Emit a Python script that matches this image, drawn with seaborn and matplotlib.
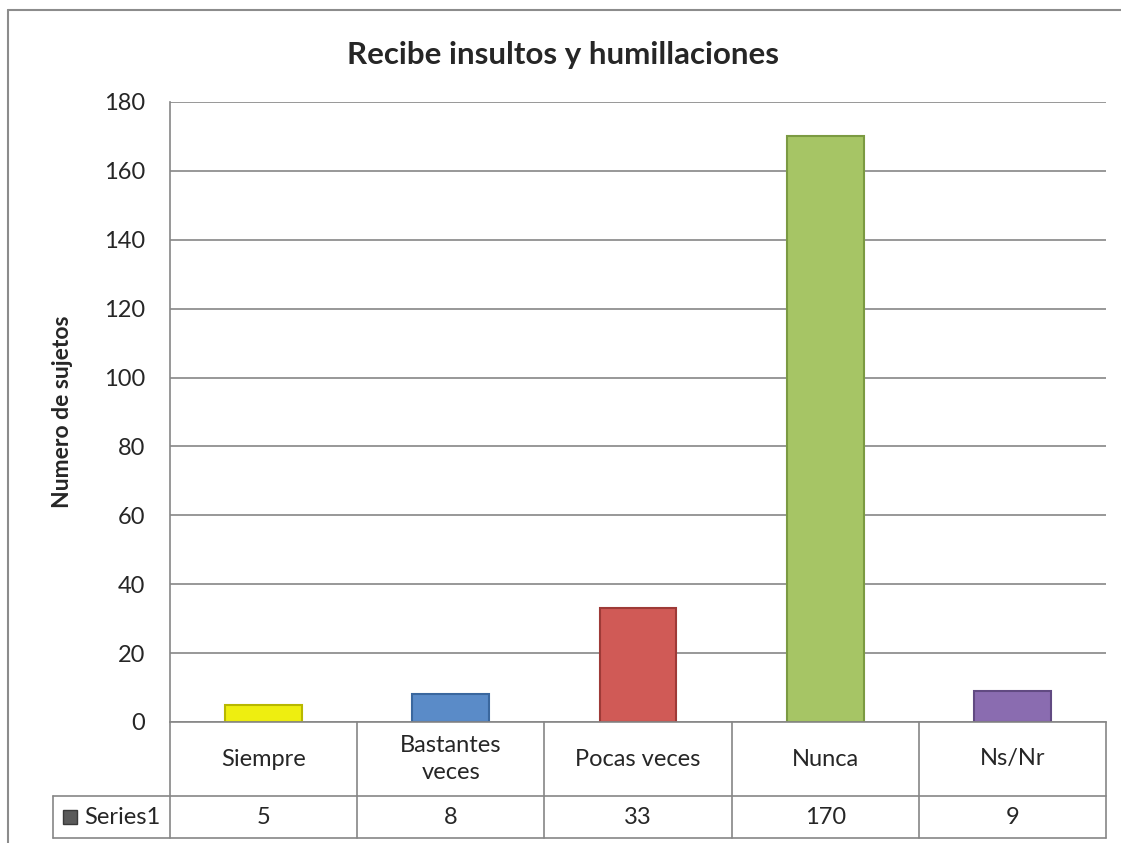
import matplotlib
matplotlib.use("Agg")
import matplotlib.pyplot as plt
import seaborn as sns
import pandas as pd
from matplotlib.lines import Line2D

# data
categorias = ["Siempre", "Bastantes\nveces", "Pocas veces", "Nunca", "Ns/Nr"]
sujetos = [5, 8, 33, 170, 9]
colores = ["#EEEE10", "#5A8BC8", "#D05A56", "#A6C565", "#8A6CB0"]
bordes = ["#B8B800", "#3A679E", "#9E3A37", "#7B9A42", "#614A82"]
serie = "Series1"
yticks = [0, 20, 40, 60, 80, 100, 120, 140, 160, 180]
titulo = "Recibe insultos y humillaciones"
ylabel = "Numero de sujetos"

sns.set_style("white")
plt.rcParams["font.family"] = ["Lato", "DejaVu Sans"]

df = pd.DataFrame({"cat": categorias, "n": sujetos})

W, H = 1121, 843
fig = plt.figure(figsize=(W / 100, H / 100), dpi=100)
ax = fig.add_axes([170 / W, (H - 722) / H, 936 / W, 620 / H])

sns.barplot(data=df, x="cat", y="n", hue="cat", palette=colores,
            legend=False, width=0.41, ax=ax, saturation=1)
for p, ec in zip(ax.patches, bordes):
    p.set_edgecolor(ec)
    p.set_linewidth(1.5)

grid = "#868686"
ax.set_ylim(0, 180)
ax.set_xlim(-0.5, len(categorias) - 0.5)
ax.set_yticks(yticks)
ax.yaxis.grid(True, color=grid, linewidth=1.2)
ax.set_axisbelow(True)
ax.tick_params(axis="y", labelsize=17, length=0, pad=18)
ax.set_xticks([])
ax.set_xlabel("")
ax.set_ylabel(ylabel, fontsize=16.5, fontweight="bold", labelpad=22)
for s in ["top", "right"]:
    ax.spines[s].set_visible(False)
for s in ["left", "bottom"]:
    ax.spines[s].set_color(grid)
    ax.spines[s].set_linewidth(1.2)

# data table under the axis
n = len(categorias)
px = n / 936  # data units per pixel along x
tr = ax.get_xaxis_transform()
y_row1 = -74 / 620
y_row2 = -116 / 620
x_left = -0.5 - 117 * px
for i in range(n + 1):
    ax.add_line(Line2D([i - 0.5, i - 0.5], [0, y_row2], transform=tr,
                       color=grid, lw=1.2, clip_on=False))
ax.add_line(Line2D([x_left, n - 0.5], [y_row1, y_row1], transform=tr,
                   color=grid, lw=1.2, clip_on=False))
ax.add_line(Line2D([x_left, n - 0.5], [y_row2, y_row2], transform=tr,
                   color=grid, lw=1.2, clip_on=False))
ax.add_line(Line2D([x_left, x_left], [y_row1, y_row2], transform=tr,
                   color=grid, lw=1.2, clip_on=False))
for i, (c, v) in enumerate(zip(categorias, sujetos)):
    ax.text(i, y_row1 / 2, c, transform=tr, ha="center", va="center",
            fontsize=17, linespacing=1.3)
    ax.text(i, (y_row1 + y_row2) / 2, str(v), transform=tr, ha="center",
            va="center", fontsize=17)
y_mid = (y_row1 + y_row2) / 2
ax.plot([x_left + 17 * px], [y_mid], transform=tr, marker="s",
        markersize=10, color="#5A5A5A", mec="#3A3A3A", clip_on=False)
ax.text(x_left + 31 * px, y_mid, serie, transform=tr,
        ha="left", va="center", fontsize=17)

# title and chart border
fig.text(0.502, (H - 55) / H, titulo, ha="center", va="center",
         fontsize=22.5, fontweight="bold")
fig.add_artist(Line2D([8 / W, 1], [1 - 10 / H, 1 - 10 / H], color="#8C8C8C", lw=1.5))
fig.add_artist(Line2D([8 / W, 8 / W], [0, 1 - 10 / H], color="#8C8C8C", lw=1.5))

fig.savefig("out.png", dpi=100)
